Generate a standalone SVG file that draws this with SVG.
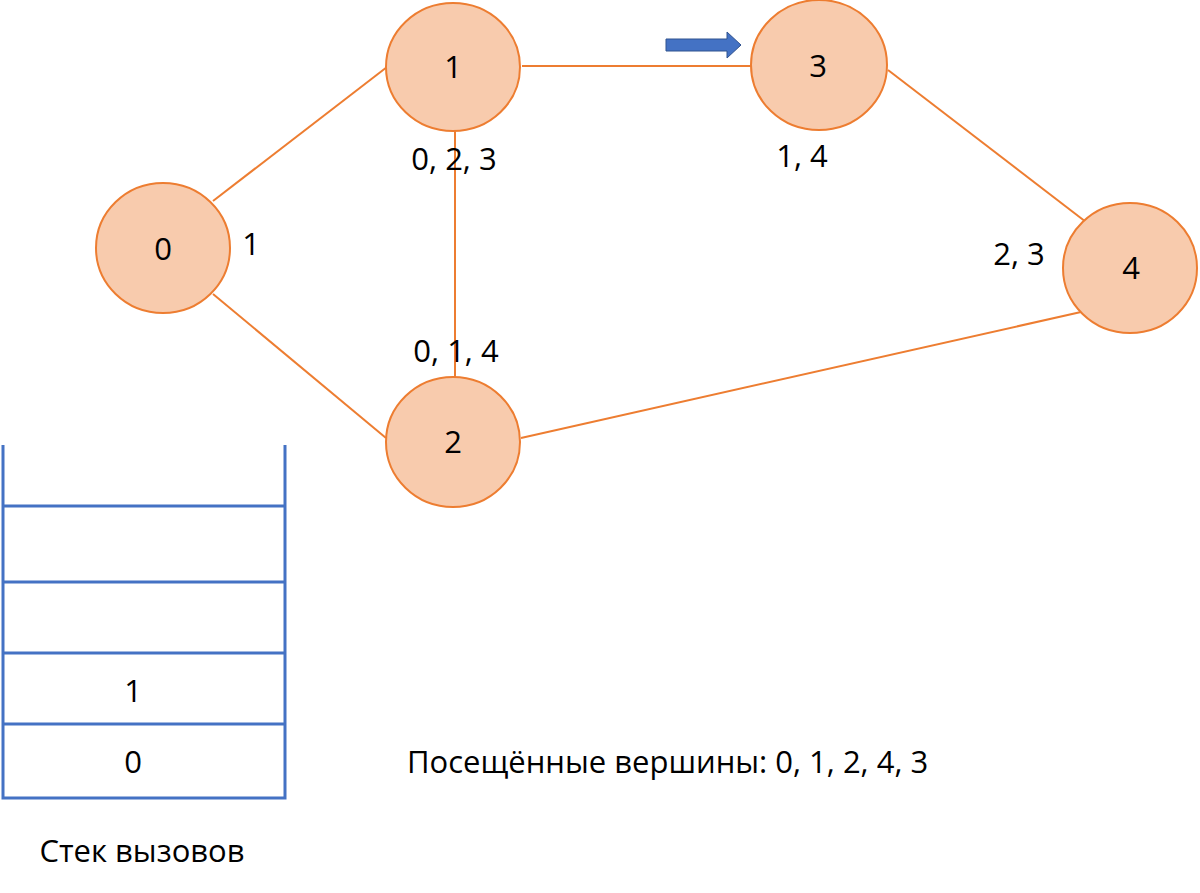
<svg xmlns="http://www.w3.org/2000/svg" width="1200" height="893" viewBox="0 0 1200 893">
<style>
.node{fill:#F8CBAD;stroke:#ED7D31;stroke-width:2}
.edge{stroke:#ED7D31;stroke-width:2;fill:none}
.stk{stroke:#4472C4;stroke-width:3;fill:none}
text{font-family:"Open Sans","Liberation Sans",sans-serif;font-size:31px;fill:#000}
.c{text-anchor:middle}
</style>
<rect width="1200" height="893" fill="#fff"/>
<g id="connectors">
<line class="edge" x1="213" y1="201" x2="387" y2="67"/>
<line class="edge" x1="213" y1="294" x2="386" y2="438"/>
<line class="edge" x1="522" y1="66" x2="751" y2="66"/>
<line class="edge" x1="455" y1="130" x2="455" y2="377"/>
<line class="edge" x1="888" y1="70" x2="1086" y2="222"/>
<line class="edge" x1="521" y1="438" x2="1081" y2="312"/>
</g>
<g id="node0"><ellipse class="node" cx="163" cy="248" rx="67" ry="65"/><text class="c" x="163" y="260">0</text></g>
<g id="node1"><ellipse class="node" cx="453" cy="67" rx="67" ry="64"/><text class="c" x="453" y="78">1</text></g>
<g id="node2"><ellipse class="node" cx="453" cy="442" rx="67" ry="65"/><text class="c" x="453" y="453">2</text></g>
<g id="node3"><ellipse class="node" cx="819" cy="65" rx="68" ry="65"/><text class="c" x="818" y="77">3</text></g>
<g id="node4"><ellipse class="node" cx="1130" cy="268" rx="67" ry="65"/><text class="c" x="1131" y="279">4</text></g>
<g id="labels">
<text class="c" x="251" y="255">1</text>
<text class="c" x="454" y="170">0, 2, 3</text>
<text class="c" x="456" y="362">0, 1, 4</text>
<text class="c" x="802" y="167">1, 4</text>
<text class="c" x="1019" y="265">2, 3</text>
<text x="407" y="773">Посещённые вершины: 0, 1, 2, 4, 3</text>
</g>
<g id="pointer">
<polygon points="666,39 727,39 727,32 741,45 727,58 727,51 666,51" fill="#4472C4" stroke="#2F528F" stroke-width="1"/>
</g>
<g id="stack">
<path class="stk" d="M3,445 V798 H285 V445"/>
<line class="stk" x1="3" y1="506" x2="285" y2="506"/>
<line class="stk" x1="3" y1="582" x2="285" y2="582"/>
<line class="stk" x1="3" y1="653" x2="285" y2="653"/>
<line class="stk" x1="3" y1="724" x2="285" y2="724"/>
<text class="c" x="133" y="702">1</text>
<text class="c" x="133" y="773">0</text>
<text class="c" x="142" y="862">Стек вызовов</text>
</g>
</svg>
